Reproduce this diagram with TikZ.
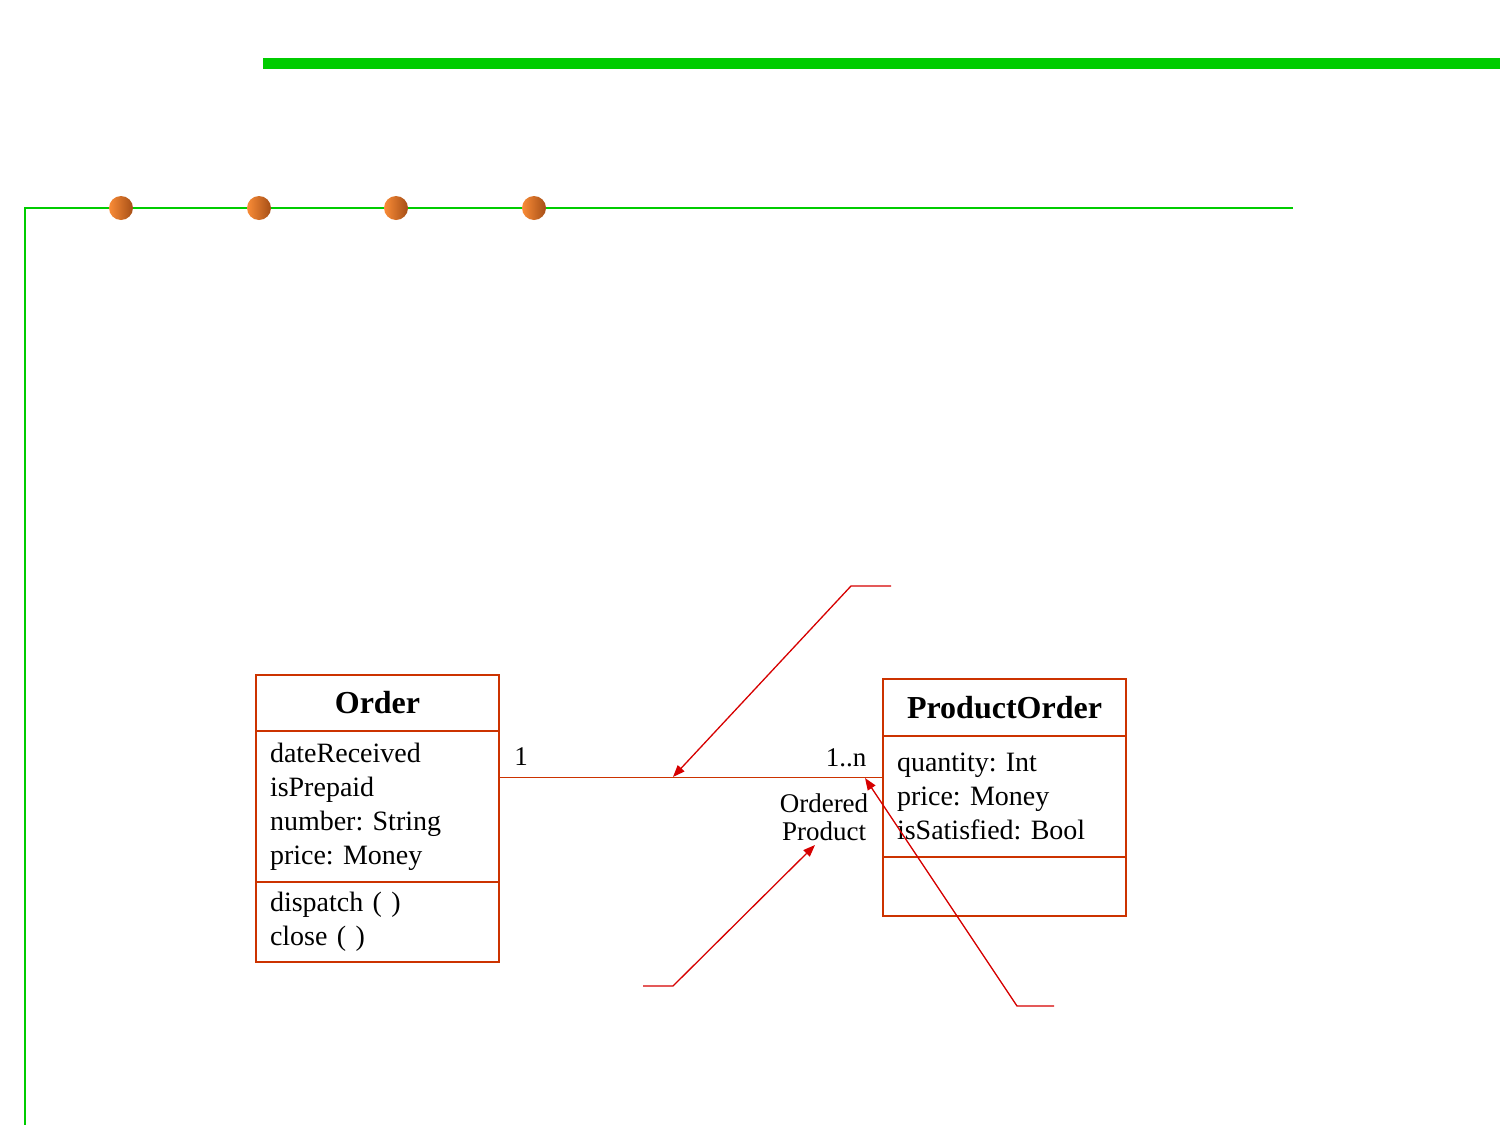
\documentclass[tikz,border=0pt]{standalone}
\usepackage{fontspec}
\setmainfont{Liberation Serif}
\usetikzlibrary{arrows.meta,calc}
\definecolor{grn}{RGB}{0,204,0}
\definecolor{umlred}{RGB}{204,51,0}
\definecolor{callred}{RGB}{214,0,0}
\definecolor{ballL}{RGB}{250,140,55}
\definecolor{ballR}{RGB}{165,78,22}
\frenchspacing
\begin{document}
\begin{tikzpicture}[x=0.5pt,y=-0.5pt,
  ball/.style={circle,minimum size=12pt,inner sep=0pt,left color=ballL,right color=ballR},
  umlbox/.style={draw=umlred,line width=1pt,minimum width=121.5pt,inner sep=0pt,outer sep=0pt},
  umltitle/.style={umlbox,font=\fontsize{16}{19}\selectfont\bfseries},
  umlattr/.style={umlbox,align=left,text width=107.5pt,font=\fontsize{14}{17}\selectfont\frenchspacing},
  lbl/.style={inner sep=0pt,font=\fontsize{13.5}{14}\selectfont},
  callout/.style={draw=callred,line width=0.65pt},
  tip/.style={-{Triangle[length=6pt,width=4.5pt]}}
]
\useasboundingbox (0,0) rectangle (1500,1125);
% decorations
\fill[grn] (263,58) rectangle (1500,69);
\draw[grn,line width=1pt] (25,1125) -- (25,208) -- (1293,208);
\node[ball] (b1) at (121,208) {};
\node[ball] (b2) at (259,208) {};
\node[ball] (b3) at (396,208) {};
\node[ball] (b4) at (534,208) {};
% Order class
\node[umltitle,minimum height=28pt] (ordtitle) at (377.5,703) {Order};
\node[umlattr,minimum height=75.5pt] (ordattr) at (377.5,806.5) {dateReceived\\isPrepaid\\number: String\\price: Money};
\node[umlattr,minimum height=40pt] (ordmeth) at (377.5,922) {dispatch ( )\\close ( )};
% ProductOrder class
\node[umltitle,minimum height=28.5pt] (potitle) at (1004.5,707.5) {ProductOrder};
\node[umlattr,minimum height=60.5pt] (poattr) at (1004.5,796.5) {quantity: Int\\price: Money\\isSatisfied: Bool\\[-4pt]};
\node[umlattr,minimum height=29.5pt] (pometh) at (1004.5,886.5) {};
% association
\coordinate (lvl) at (0,777);
\draw[umlred,line width=0.5pt] (ordattr.east |- lvl) -- coordinate[pos=0.453] (mid) (poattr.west |- lvl);
\node[lbl] (m1) at (521,757) {1};
\node[lbl] (mn) at (846,758) {1..n};
\node[lbl,align=center] (rolelbl) at (824,817) {Ordered\\Product};
% callouts
\coordinate (c1a) at (891,586);
\coordinate (c1b) at (851,586);
\draw[callout,tip] (c1a) -- (c1b) -- (mid);
\coordinate (c2a) at (643,986);
\coordinate (c2b) at (673,986);
\coordinate (t2) at (815,845);
\draw[callout,tip] (c2a) -- (c2b) -- (t2);
\coordinate (c3a) at (1054,1006);
\coordinate (c3b) at (1017,1006);
\coordinate (t3) at ($(poattr.west |- lvl)+(-18,1)$);
\draw[callout,tip] (c3a) -- (c3b) -- (t3);
\end{tikzpicture}
\end{document}
